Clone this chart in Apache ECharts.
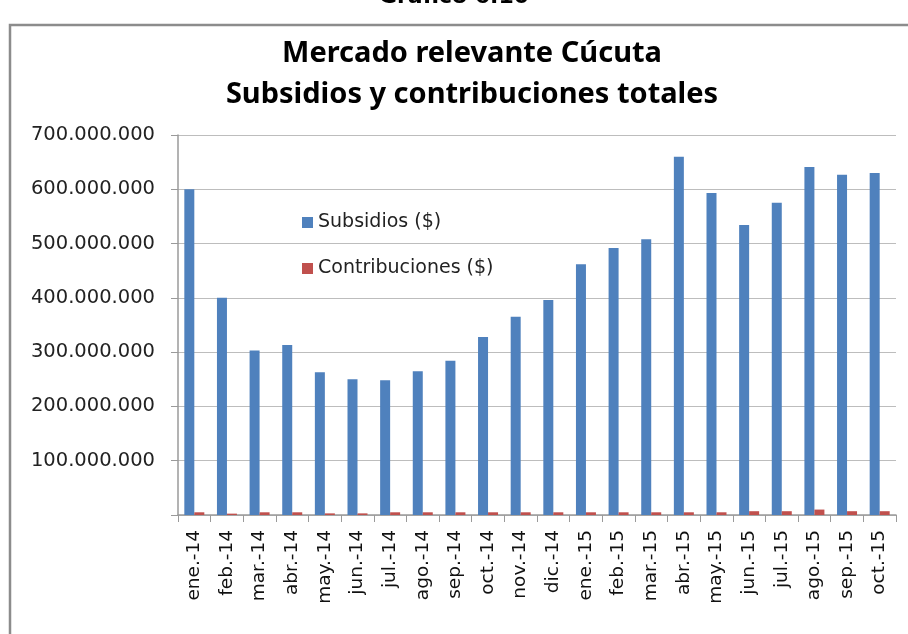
<!DOCTYPE html>
<html>
<head>
<meta charset="utf-8">
<script src="https://cdn.jsdelivr.net/npm/echarts@6/dist/echarts.min.js"></script>
<style>
  html, body { margin: 0; padding: 0; background: #fff; }
  #chart { width: 908px; height: 634px; }
</style>
</head>
<body>
<div id="chart"></div>
<script>
// meses
const categories = [
  'ene.-14', 'feb.-14', 'mar.-14', 'abr.-14', 'may.-14', 'jun.-14', 'jul.-14',
  'ago.-14', 'sep.-14', 'oct.-14', 'nov.-14', 'dic.-14', 'ene.-15', 'feb.-15',
  'mar.-15', 'abr.-15', 'may.-15', 'jun.-15', 'jul.-15', 'ago.-15', 'sep.-15', 'oct.-15'
];

// valores en pesos
const subsidios = [
  600000000, 400000000, 303000000, 313000000, 263000000, 250000000, 248000000,
  265000000, 284000000, 328000000, 365000000, 396000000, 462000000, 492000000,
  508000000, 660000000, 593000000, 534000000, 575000000, 641000000, 627000000, 630000000
];

const contribuciones = [
  5000000, 2500000, 5000000, 5000000, 3000000, 3000000, 5000000,
  5000000, 5000000, 5000000, 5000000, 5000000, 5000000, 5000000,
  5000000, 5000000, 5000000, 7000000, 7000000, 10000000, 7000000, 7000000
];

const yTicks = { min: 0, max: 700000000, interval: 100000000 };

const myChart = echarts.init(document.getElementById('chart'));

const option = {
  backgroundColor: '#fff',
  animation: false,
  textStyle: { fontFamily: 'DejaVu Sans' },
  graphic: [
    {
      type: 'rect',
      shape: { x: 10, y: 25, width: 1000, height: 1000 },
      style: { fill: 'none', stroke: '#8c8c8c', lineWidth: 2.5 },
      silent: true
    },
    {
      type: 'text',
      left: 'center',
      top: -14,
      style: { text: 'Gráfico 6.10', font: 'bold 22px "DejaVu Sans"', fill: '#000' }
    }
  ],
  title: {
    text: 'Mercado relevante Cúcuta\nSubsidios y contribuciones totales',
    left: 467,
    textAlign: 'center',
    top: 28,
    textStyle: {
      fontFamily: 'Noto Sans',
      fontWeight: 'bold',
      fontSize: 29,
      lineHeight: 41,
      color: '#000'
    }
  },
  legend: {
    orient: 'vertical',
    left: 297,
    top: 208,
    itemWidth: 11,
    itemHeight: 11,
    itemGap: 27,
    icon: 'rect',
    textStyle: { fontSize: 19, color: '#222', fontFamily: 'DejaVu Sans' },
    data: ['Subsidios ($)', 'Contribuciones ($)']
  },
  grid: {
    left: 178,
    right: 12,
    top: 135,
    bottom: 119
  },
  xAxis: {
    type: 'category',
    data: categories,
    axisLine: { lineStyle: { color: '#9a9a9a', width: 1.5 } },
    axisTick: { show: true, length: 7, lineStyle: { color: '#9a9a9a' } },
    axisLabel: {
      rotate: 90,
      interval: 0,
      margin: 15,
      fontSize: 18.5,
      color: '#111'
    }
  },
  yAxis: {
    type: 'value',
    min: yTicks.min,
    max: yTicks.max,
    interval: yTicks.interval,
    axisLine: { show: true, lineStyle: { color: '#9a9a9a', width: 1.5 } },
    axisTick: { show: true, length: 7, lineStyle: { color: '#9a9a9a' } },
    splitLine: { lineStyle: { color: '#bdbdbd', width: 1.2 } },
    axisLabel: {
      fontSize: 19.5,
      color: '#222',
      margin: 23,
      formatter: v => v === 0 ? '' : v.toLocaleString('de-DE')
    }
  },
  series: [
    {
      name: 'Subsidios ($)',
      type: 'bar',
      data: subsidios,
      barWidth: 10,
      barGap: '0%',
      itemStyle: { color: '#4f81bd' }
    },
    {
      name: 'Contribuciones ($)',
      type: 'bar',
      data: contribuciones,
      barWidth: 10,
      barGap: '0%',
      itemStyle: { color: '#c0504d' }
    }
  ]
};

myChart.setOption(option);
</script>
</body>
</html>
